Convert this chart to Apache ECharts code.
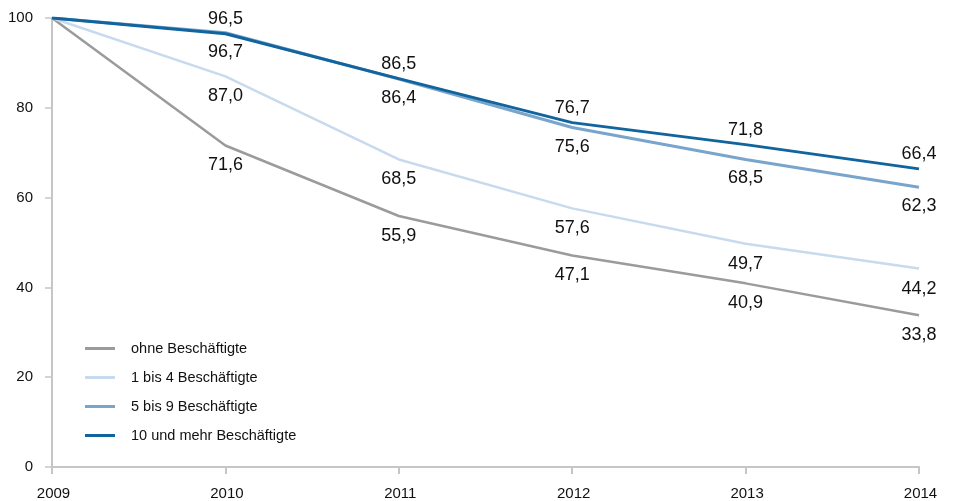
<!DOCTYPE html>
<html>
<head>
<meta charset="utf-8">
<script src="https://cdn.jsdelivr.net/npm/echarts@6/dist/echarts.min.js"></script>
<style>
  html, body { margin: 0; padding: 0; background: #fff; }
  #chart { width: 953px; height: 501px; }
</style>
</head>
<body>
<div id="chart"></div>
<script>
// Years on the x axis
const years = ['2009', '2010', '2011', '2012', '2013', '2014'];

// Index values (2009 = 100) per size class
const ohneBeschaeftigte = [100, 71.6, 55.9, 47.1, 40.9, 33.8];
const einsBisVier = [100, 87.0, 68.5, 57.6, 49.7, 44.2];
const fuenfBisNeun = [100, 96.7, 86.4, 75.6, 68.5, 62.3];
const zehnUndMehr = [100, 96.5, 86.5, 76.7, 71.8, 66.4];

const seriesNames = ['ohne Beschäftigte', '1 bis 4 Beschäftigte', '5 bis 9 Beschäftigte', '10 und mehr Beschäftigte'];
const yTicks = { min: 0, max: 100, interval: 20 };

const fontFamily = 'Liberation Sans, Arial, sans-serif';
const fmt = v => v.toFixed(1).replace('.', ',');

function lineSeries(name, data, color, width, labelPos, distance, z) {
  return {
    name,
    type: 'line',
    data,
    symbol: 'circle',
    symbolSize: 0,
    showSymbol: true,
    z,
    lineStyle: { color, width },
    itemStyle: { color },
    label: {
      show: true,
      position: labelPos,
      distance,
      fontSize: 18,
      fontFamily,
      color: '#111',
      formatter: p => (p.dataIndex === 0 ? '' : fmt(p.value))
    },
    emphasis: { disabled: true }
  };
}

const chart = echarts.init(document.getElementById('chart'), null, { renderer: 'canvas' });
chart.setOption({
  animation: false,
  backgroundColor: '#fff',
  grid: { left: 52, right: 34, top: 18, bottom: 33, containLabel: false },
  legend: {
    orient: 'vertical',
    left: 80,
    top: 336,
    icon: 'rect',
    itemWidth: 30,
    itemHeight: 3,
    itemGap: 14,
    textStyle: { fontSize: 14.5, fontFamily, color: '#111', padding: [0, 0, 0, 11] },
    data: seriesNames
  },
  xAxis: {
    type: 'category',
    data: years,
    boundaryGap: false,
    axisLine: { lineStyle: { color: '#c6c6c6', width: 2 } },
    axisTick: { show: true, length: 7, lineStyle: { color: '#c6c6c6', width: 2 } },
    axisLabel: { fontSize: 15, fontFamily, color: '#111', margin: 19, padding: [0, 0, 0, 3] },
    splitLine: { show: false }
  },
  yAxis: {
    type: 'value',
    min: yTicks.min,
    max: yTicks.max,
    interval: yTicks.interval,
    axisLine: { show: true, lineStyle: { color: '#c6c6c6', width: 2 } },
    axisTick: { show: true, length: 7, lineStyle: { color: '#c6c6c6', width: 1.5 } },
    axisLabel: { fontSize: 15, fontFamily, color: '#111', margin: 19 },
    splitLine: { show: false }
  },
  series: [
    lineSeries(seriesNames[0], ohneBeschaeftigte, '#9b9b9b', 2.5, 'bottom', 11, 2),
    lineSeries(seriesNames[1], einsBisVier, '#c8daee', 2.5, 'bottom', 11, 2),
    lineSeries(seriesNames[2], fuenfBisNeun, '#79a5cd', 3, 'bottom', 10, 3),
    lineSeries(seriesNames[3], zehnUndMehr, '#12649e', 3, 'top', 6, 4)
  ]
});
</script>
</body>
</html>
